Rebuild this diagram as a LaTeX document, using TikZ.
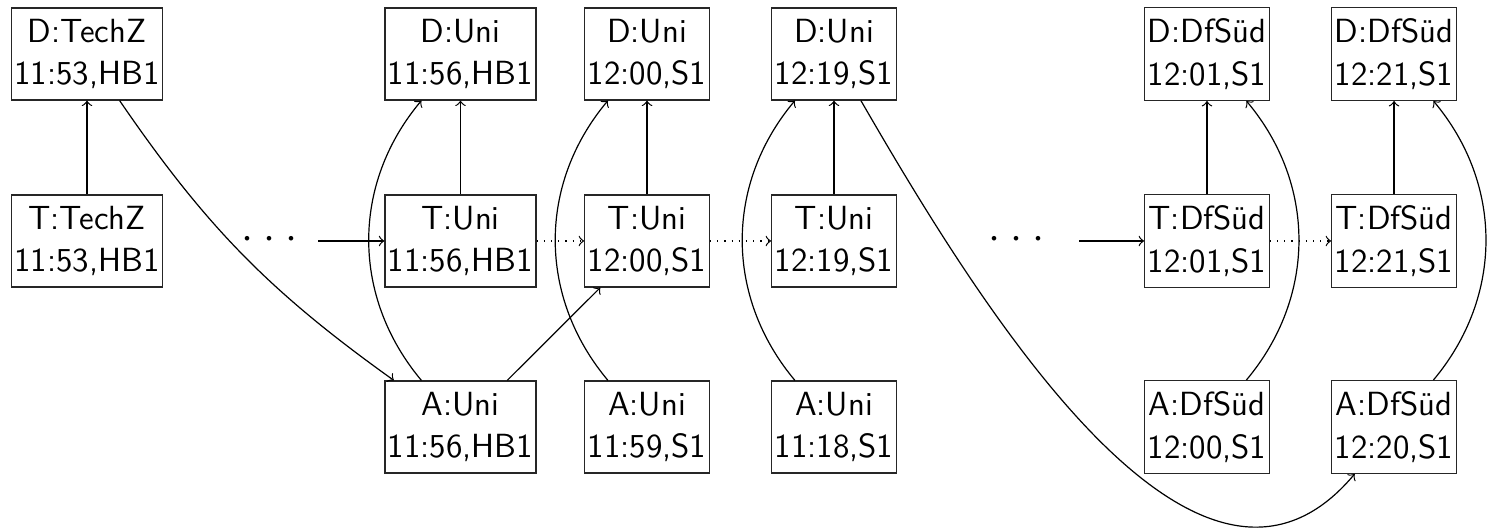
\documentclass[tikz,border=0pt]{standalone}
\begin{document}
\begin{tikzpicture}[x=1pt,y=1pt,
  box/.style={draw=black!85, align=center, font=\sffamily\fontsize{11.17}{14.3}\selectfont, inner xsep=1pt, inner ysep=3.6pt},
  arr/.style={->},
  dotarr/.style={->, dotted},
  dotsnode/.style={inner sep=0pt, anchor=center}]
\useasboundingbox (0,0) rectangle (496.67,-176);
% column 1
\node[box] (dtz) at (29,-18)      {D:TechZ\\11:53,HB1};
\node[box] (ttz) at (29,-80.33)   {T:TechZ\\11:53,HB1};
% column 2
\node[box] (du1) at (153.5,-18)     {D:Uni\\11:56,HB1};
\node[box] (tu1) at (153.5,-80.33)  {T:Uni\\11:56,HB1};
\node[box] (au1) at (153.5,-142.33) {A:Uni\\11:56,HB1};
% column 3
\node[box] (du2) at (215.67,-18)     {D:Uni\\12:00,S1};
\node[box] (tu2) at (215.67,-80.33)  {T:Uni\\12:00,S1};
\node[box] (au2) at (215.67,-142.33) {A:Uni\\11:59,S1};
% column 4
\node[box] (du3) at (278,-18)     {D:Uni\\12:19,S1};
\node[box] (tu3) at (278,-80.33)  {T:Uni\\12:19,S1};
\node[box] (au3) at (278,-142.33) {A:Uni\\11:18,S1};
% column 5
\node[box] (dd1) at (402.33,-18)     {D:DfSüd\\12:01,S1};
\node[box] (td1) at (402.33,-80.33)  {T:DfSüd\\12:01,S1};
\node[box] (ad1) at (402.33,-142.33) {A:DfSüd\\12:00,S1};
% column 6
\node[box] (dd2) at (464.67,-18)     {D:DfSüd\\12:21,S1};
\node[box] (td2) at (464.67,-80.33)  {T:DfSüd\\12:21,S1};
\node[box] (ad2) at (464.67,-142.33) {A:DfSüd\\12:20,S1};
% dots
\node[dotsnode] (dots1) at (89.83,-80) {\fontsize{14.5}{17}\selectfont${\cdot}\hspace{3.3pt}{\cdot}\hspace{3.3pt}{\cdot}$};
\node[dotsnode] (dots2) at (338.9,-80) {\fontsize{14.5}{17}\selectfont${\cdot}\hspace{3.3pt}{\cdot}\hspace{3.3pt}{\cdot}$};
\coordinate (s1) at (106,-80.33);
\coordinate (s2) at (359.8,-80.33);
% vertical arrows
\draw[arr] (ttz) -- (dtz);
\draw[arr] (tu1) -- (du1);
\draw[arr] (tu2) -- (du2);
\draw[arr] (tu3) -- (du3);
\draw[arr] (td1) -- (dd1);
\draw[arr] (td2) -- (dd2);
% horizontal
\draw[arr] (s1) -- (tu1);
\draw[arr] (s2) -- (td1);
\draw[dotarr] (tu1) -- (tu2);
\draw[dotarr] (tu2) -- (tu3);
\draw[dotarr] (td1) -- (td2);
% curves
\draw[arr] (dtz) to[bend right=10] (au1);
\draw[arr] (au1) to[bend left=40] (du1);
\draw[arr] (au2) to[bend left=40] (du2);
\draw[arr] (au3) to[bend left=40] (du3);
\draw[arr] (au1) -- (tu2);
\draw[arr] (ad1) to[bend right=40] (dd1);
\draw[arr] (ad2) to[bend right=40] (dd2);
\draw[arr] (du3) to[out=-60,in=-130] (ad2);
\end{tikzpicture}
\end{document}
